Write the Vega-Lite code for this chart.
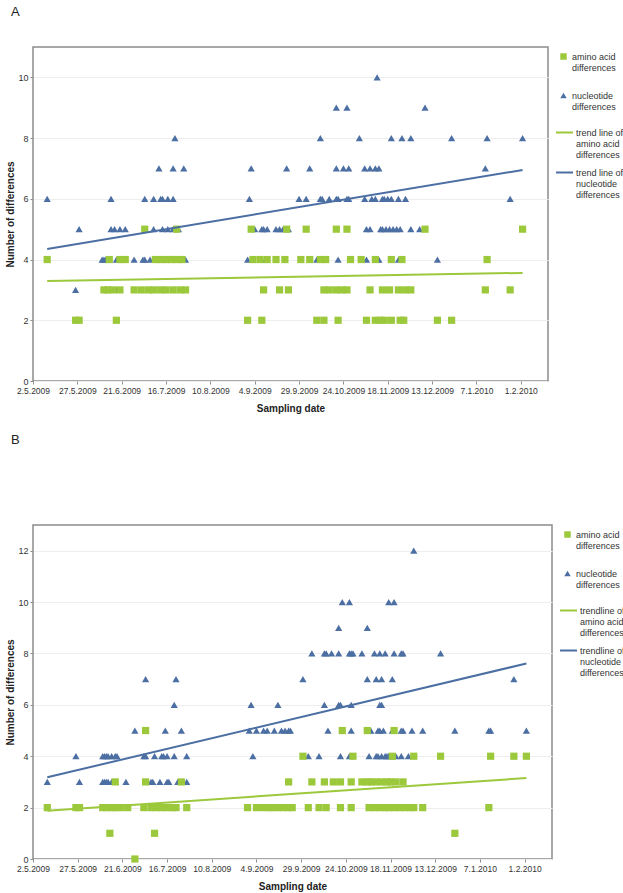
{
"$schema":"https://vega.github.io/schema/vega-lite/v6.json",
"background":"white",
"padding":{"left":5,"top":5,"right":0,"bottom":0},
"spacing":18,
"config":{
 "font":"Liberation Sans",
 "view":{"stroke":"#8c8c8c","strokeWidth":1.5},
 "axis":{"labelFont":"Liberation Sans","labelFontSize":9,"labelColor":"#333333","titleFont":"Liberation Sans","titleFontSize":10,"titleFontWeight":"bold","titleColor":"#222222","tickColor":"#8c8c8c","tickSize":3,"labelPadding":2,"domain":false,"gridColor":"#eeeeee"},
 "legend":{"labelFont":"Liberation Sans","labelFontSize":9,"labelColor":"#333333","padding":0,"offset":7,"labelLimit":200,"titleFontSize":1,"titleColor":"white"},
 "title":{"font":"Liberation Sans","fontSize":13,"fontWeight":"normal","color":"#222222"}
},
"resolve":{"scale":{"color":"independent","shape":"independent","stroke":"independent","x":"independent","y":"independent"},"legend":{"color":"independent","shape":"independent","stroke":"independent"}},
"vconcat":[
{
 "title":{"text":"A","anchor":"start","frame":"group","dx":-22,"offset":28},
 "width":515,"height":334,
 "data":{"values":[
{"d":"2009-11-12","v":10,"s":"nt"},
{"d":"2009-10-20","v":9,"s":"nt"},{"d":"2009-10-26","v":9,"s":"nt"},{"d":"2009-12-09","v":9,"s":"nt"},
{"d":"2009-07-21","v":8,"s":"nt"},{"d":"2009-10-11","v":8,"s":"nt"},{"d":"2009-11-02","v":8,"s":"nt"},{"d":"2009-11-20","v":8,"s":"nt"},{"d":"2009-11-26","v":8,"s":"nt"},{"d":"2009-12-01","v":8,"s":"nt"},{"d":"2009-12-24","v":8,"s":"nt"},{"d":"2010-01-13","v":8,"s":"nt"},{"d":"2010-02-02","v":8,"s":"nt"},
{"d":"2009-07-12","v":7,"s":"nt"},{"d":"2009-07-20","v":7,"s":"nt"},{"d":"2009-07-26","v":7,"s":"nt"},{"d":"2009-09-02","v":7,"s":"nt"},{"d":"2009-09-22","v":7,"s":"nt"},{"d":"2009-10-05","v":7,"s":"nt"},{"d":"2009-10-20","v":7,"s":"nt"},{"d":"2009-10-24","v":7,"s":"nt"},{"d":"2009-10-27","v":7,"s":"nt"},{"d":"2009-11-05","v":7,"s":"nt"},{"d":"2009-11-08","v":7,"s":"nt"},{"d":"2009-11-11","v":7,"s":"nt"},{"d":"2009-11-13","v":7,"s":"nt"},{"d":"2010-01-12","v":7,"s":"nt"},
{"d":"2009-05-10","v":6,"s":"nt"},{"d":"2009-06-15","v":6,"s":"nt"},{"d":"2009-07-04","v":6,"s":"nt"},{"d":"2009-07-09","v":6,"s":"nt"},{"d":"2009-07-13","v":6,"s":"nt"},{"d":"2009-07-14","v":6,"s":"nt"},{"d":"2009-07-17","v":6,"s":"nt"},{"d":"2009-07-20","v":6,"s":"nt"},{"d":"2009-09-01","v":6,"s":"nt"},{"d":"2009-09-29","v":6,"s":"nt"},{"d":"2009-10-03","v":6,"s":"nt"},{"d":"2009-10-11","v":6,"s":"nt"},{"d":"2009-10-12","v":6,"s":"nt"},{"d":"2009-10-16","v":6,"s":"nt"},{"d":"2009-10-20","v":6,"s":"nt"},{"d":"2009-10-21","v":6,"s":"nt"},{"d":"2009-10-26","v":6,"s":"nt"},{"d":"2009-10-27","v":6,"s":"nt"},{"d":"2009-11-05","v":6,"s":"nt"},{"d":"2009-11-09","v":6,"s":"nt"},{"d":"2009-11-11","v":6,"s":"nt"},{"d":"2009-11-15","v":6,"s":"nt"},{"d":"2009-11-16","v":6,"s":"nt"},{"d":"2009-11-18","v":6,"s":"nt"},{"d":"2009-11-20","v":6,"s":"nt"},{"d":"2009-11-24","v":6,"s":"nt"},{"d":"2009-11-28","v":6,"s":"nt"},{"d":"2010-01-26","v":6,"s":"nt"},
{"d":"2009-05-28","v":5,"s":"nt"},{"d":"2009-06-15","v":5,"s":"nt"},{"d":"2009-06-17","v":5,"s":"nt"},{"d":"2009-06-20","v":5,"s":"nt"},{"d":"2009-06-23","v":5,"s":"nt"},{"d":"2009-07-09","v":5,"s":"nt"},{"d":"2009-07-14","v":5,"s":"nt"},{"d":"2009-07-17","v":5,"s":"nt"},{"d":"2009-07-20","v":5,"s":"nt"},{"d":"2009-07-23","v":5,"s":"nt"},{"d":"2009-09-04","v":5,"s":"nt"},{"d":"2009-09-08","v":5,"s":"nt"},{"d":"2009-09-09","v":5,"s":"nt"},{"d":"2009-09-11","v":5,"s":"nt"},{"d":"2009-09-16","v":5,"s":"nt"},{"d":"2009-09-18","v":5,"s":"nt"},{"d":"2009-09-20","v":5,"s":"nt"},{"d":"2009-09-23","v":5,"s":"nt"},{"d":"2009-11-06","v":5,"s":"nt"},{"d":"2009-11-08","v":5,"s":"nt"},{"d":"2009-11-14","v":5,"s":"nt"},{"d":"2009-11-15","v":5,"s":"nt"},{"d":"2009-11-17","v":5,"s":"nt"},{"d":"2009-11-19","v":5,"s":"nt"},{"d":"2009-11-21","v":5,"s":"nt"},{"d":"2009-11-23","v":5,"s":"nt"},{"d":"2009-11-25","v":5,"s":"nt"},{"d":"2009-12-01","v":5,"s":"nt"},{"d":"2009-12-06","v":5,"s":"nt"},
{"d":"2009-06-10","v":4,"s":"nt"},{"d":"2009-06-11","v":4,"s":"nt"},{"d":"2009-06-12","v":4,"s":"nt"},{"d":"2009-06-18","v":4,"s":"nt"},{"d":"2009-06-28","v":4,"s":"nt"},{"d":"2009-07-03","v":4,"s":"nt"},{"d":"2009-07-04","v":4,"s":"nt"},{"d":"2009-07-07","v":4,"s":"nt"},{"d":"2009-07-14","v":4,"s":"nt"},{"d":"2009-07-22","v":4,"s":"nt"},{"d":"2009-07-27","v":4,"s":"nt"},{"d":"2009-08-31","v":4,"s":"nt"},{"d":"2009-09-08","v":4,"s":"nt"},{"d":"2009-10-09","v":4,"s":"nt"},{"d":"2009-10-12","v":4,"s":"nt"},{"d":"2009-10-13","v":4,"s":"nt"},{"d":"2009-10-21","v":4,"s":"nt"},{"d":"2009-11-06","v":4,"s":"nt"},{"d":"2009-11-12","v":4,"s":"nt"},{"d":"2009-11-13","v":4,"s":"nt"},{"d":"2009-11-24","v":4,"s":"nt"},{"d":"2009-12-16","v":4,"s":"nt"},
{"d":"2009-05-26","v":3,"s":"nt"},{"d":"2009-06-18","v":3,"s":"nt"},
{"d":"2009-07-04","v":5,"s":"aa"},{"d":"2009-07-22","v":5,"s":"aa"},{"d":"2009-09-02","v":5,"s":"aa"},{"d":"2009-09-22","v":5,"s":"aa"},{"d":"2009-10-03","v":5,"s":"aa"},{"d":"2009-10-20","v":5,"s":"aa"},{"d":"2009-10-26","v":5,"s":"aa"},{"d":"2009-12-09","v":5,"s":"aa"},{"d":"2010-02-02","v":5,"s":"aa"},
{"d":"2009-05-10","v":4,"s":"aa"},{"d":"2009-06-14","v":4,"s":"aa"},{"d":"2009-06-20","v":4,"s":"aa"},{"d":"2009-06-23","v":4,"s":"aa"},{"d":"2009-07-10","v":4,"s":"aa"},{"d":"2009-07-13","v":4,"s":"aa"},{"d":"2009-07-16","v":4,"s":"aa"},{"d":"2009-07-19","v":4,"s":"aa"},{"d":"2009-07-22","v":4,"s":"aa"},{"d":"2009-07-25","v":4,"s":"aa"},{"d":"2009-09-03","v":4,"s":"aa"},{"d":"2009-09-07","v":4,"s":"aa"},{"d":"2009-09-11","v":4,"s":"aa"},{"d":"2009-09-16","v":4,"s":"aa"},{"d":"2009-09-21","v":4,"s":"aa"},{"d":"2009-09-30","v":4,"s":"aa"},{"d":"2009-10-05","v":4,"s":"aa"},{"d":"2009-10-11","v":4,"s":"aa"},{"d":"2009-10-14","v":4,"s":"aa"},{"d":"2009-10-28","v":4,"s":"aa"},{"d":"2009-11-03","v":4,"s":"aa"},{"d":"2009-11-11","v":4,"s":"aa"},{"d":"2009-11-20","v":4,"s":"aa"},{"d":"2009-11-26","v":4,"s":"aa"},{"d":"2010-01-13","v":4,"s":"aa"},
{"d":"2009-06-11","v":3,"s":"aa"},{"d":"2009-06-13","v":3,"s":"aa"},{"d":"2009-06-16","v":3,"s":"aa"},{"d":"2009-06-20","v":3,"s":"aa"},{"d":"2009-06-28","v":3,"s":"aa"},{"d":"2009-07-02","v":3,"s":"aa"},{"d":"2009-07-06","v":3,"s":"aa"},{"d":"2009-07-09","v":3,"s":"aa"},{"d":"2009-07-13","v":3,"s":"aa"},{"d":"2009-07-16","v":3,"s":"aa"},{"d":"2009-07-20","v":3,"s":"aa"},{"d":"2009-07-24","v":3,"s":"aa"},{"d":"2009-07-27","v":3,"s":"aa"},{"d":"2009-09-09","v":3,"s":"aa"},{"d":"2009-09-18","v":3,"s":"aa"},{"d":"2009-09-23","v":3,"s":"aa"},{"d":"2009-10-13","v":3,"s":"aa"},{"d":"2009-10-16","v":3,"s":"aa"},{"d":"2009-10-20","v":3,"s":"aa"},{"d":"2009-10-23","v":3,"s":"aa"},{"d":"2009-10-26","v":3,"s":"aa"},{"d":"2009-11-08","v":3,"s":"aa"},{"d":"2009-11-15","v":3,"s":"aa"},{"d":"2009-11-19","v":3,"s":"aa"},{"d":"2009-11-24","v":3,"s":"aa"},{"d":"2009-11-28","v":3,"s":"aa"},{"d":"2009-12-01","v":3,"s":"aa"},{"d":"2010-01-12","v":3,"s":"aa"},{"d":"2010-01-26","v":3,"s":"aa"},
{"d":"2009-05-26","v":2,"s":"aa"},{"d":"2009-05-28","v":2,"s":"aa"},{"d":"2009-06-18","v":2,"s":"aa"},{"d":"2009-08-31","v":2,"s":"aa"},{"d":"2009-09-08","v":2,"s":"aa"},{"d":"2009-10-09","v":2,"s":"aa"},{"d":"2009-10-13","v":2,"s":"aa"},{"d":"2009-10-21","v":2,"s":"aa"},{"d":"2009-11-06","v":2,"s":"aa"},{"d":"2009-11-11","v":2,"s":"aa"},{"d":"2009-11-14","v":2,"s":"aa"},{"d":"2009-11-16","v":2,"s":"aa"},{"d":"2009-11-20","v":2,"s":"aa"},{"d":"2009-11-25","v":2,"s":"aa"},{"d":"2009-11-27","v":2,"s":"aa"},{"d":"2009-12-16","v":2,"s":"aa"},{"d":"2009-12-24","v":2,"s":"aa"},
{"d":"2009-05-10","v":3.29,"s":"taa"},{"d":"2010-02-02","v":3.56,"s":"taa"},
{"d":"2009-05-10","v":4.35,"s":"tnt"},{"d":"2010-02-02","v":6.95,"s":"tnt"}
 ]},
 "layer":[
  {"transform":[{"filter":"datum.s=='aa'||datum.s=='nt'"}],
   "mark":{"type":"point","filled":true,"opacity":1,"size":52},
   "encoding":{
    "x":{"field":"d","type":"temporal","scale":{"type":"utc","domain":[{"year":2009,"month":5,"date":2,"utc":true},{"year":2010,"month":2,"date":16,"hours":8,"utc":true}]},
      "axis":{"title":"Sampling date","format":"%-d.%-m.%Y","labelAngle":0,"labelFlush":false,"labelOverlap":false,"labelFontSize":8.5,"grid":false,"titlePadding":9,
        "values":[{"year":2009,"month":5,"date":2,"utc":true},{"year":2009,"month":5,"date":27,"utc":true},{"year":2009,"month":6,"date":21,"utc":true},{"year":2009,"month":7,"date":16,"utc":true},{"year":2009,"month":8,"date":10,"utc":true},{"year":2009,"month":9,"date":4,"utc":true},{"year":2009,"month":9,"date":29,"utc":true},{"year":2009,"month":10,"date":24,"utc":true},{"year":2009,"month":11,"date":18,"utc":true},{"year":2009,"month":12,"date":13,"utc":true},{"year":2010,"month":1,"date":7,"utc":true},{"year":2010,"month":2,"date":1,"utc":true}]}},
    "y":{"field":"v","type":"quantitative","scale":{"domain":[0,11],"nice":false},"axis":{"title":"Number of differences","values":[0,2,4,6,8,10],"titlePadding":2}},
    "color":{"field":"s","type":"nominal","scale":{"domain":["aa","nt"],"range":["#9CC83C","#4C6FA3"]},"legend":{"title":" ","titlePadding":4,"symbolSize":42,"symbolOffset":4,"labelOffset":4,"rowPadding":18,"labelExpr":"datum.value=='aa'?['amino acid','differences']:['nucleotide','differences']"}},
    "shape":{"field":"s","type":"nominal","scale":{"domain":["aa","nt"],"range":["square","triangle-up"]},"legend":{"title":" ","titlePadding":4,"symbolSize":42,"symbolOffset":4,"labelOffset":4,"rowPadding":18,"labelExpr":"datum.value=='aa'?['amino acid','differences']:['nucleotide','differences']"}}
   }},
  {"transform":[{"filter":"datum.s=='taa'||datum.s=='tnt'"}],
   "mark":{"type":"line","strokeWidth":2},
   "encoding":{
    "x":{"field":"d","type":"temporal"},
    "y":{"field":"v","type":"quantitative"},
    "stroke":{"field":"s","type":"nominal","scale":{"domain":["taa","tnt"],"range":["#9CC83C","#4C6FA3"]},"legend":{"title":" ","titlePadding":2,"symbolType":"stroke","symbolSize":289,"symbolStrokeWidth":2,"labelOffset":2,"rowPadding":3,"labelExpr":"datum.value=='taa'?['trend line of','amino acid','differences']:['trend line of','nucleotide','differences']"}}
   }}
 ]
},
{
 "title":{"text":"B","anchor":"start","frame":"group","dx":-22,"offset":78},
 "width":519,"height":334,
 "data":{"values":[
{"d":"2009-12-01","v":12,"s":"nt"},
{"d":"2009-10-22","v":10,"s":"nt"},{"d":"2009-10-26","v":10,"s":"nt"},{"d":"2009-11-17","v":10,"s":"nt"},{"d":"2009-11-20","v":10,"s":"nt"},
{"d":"2009-10-20","v":9,"s":"nt"},{"d":"2009-11-05","v":9,"s":"nt"},
{"d":"2009-10-05","v":8,"s":"nt"},{"d":"2009-10-12","v":8,"s":"nt"},{"d":"2009-10-13","v":8,"s":"nt"},{"d":"2009-10-16","v":8,"s":"nt"},{"d":"2009-10-20","v":8,"s":"nt"},{"d":"2009-10-26","v":8,"s":"nt"},{"d":"2009-10-27","v":8,"s":"nt"},{"d":"2009-10-28","v":8,"s":"nt"},{"d":"2009-11-02","v":8,"s":"nt"},{"d":"2009-11-09","v":8,"s":"nt"},{"d":"2009-11-12","v":8,"s":"nt"},{"d":"2009-11-15","v":8,"s":"nt"},{"d":"2009-11-20","v":8,"s":"nt"},{"d":"2009-11-24","v":8,"s":"nt"},{"d":"2009-11-25","v":8,"s":"nt"},{"d":"2009-12-16","v":8,"s":"nt"},
{"d":"2009-07-04","v":7,"s":"nt"},{"d":"2009-07-21","v":7,"s":"nt"},{"d":"2009-09-30","v":7,"s":"nt"},{"d":"2009-11-05","v":7,"s":"nt"},{"d":"2009-11-10","v":7,"s":"nt"},{"d":"2009-11-13","v":7,"s":"nt"},{"d":"2009-11-19","v":7,"s":"nt"},{"d":"2010-01-26","v":7,"s":"nt"},
{"d":"2009-07-20","v":6,"s":"nt"},{"d":"2009-09-01","v":6,"s":"nt"},{"d":"2009-09-16","v":6,"s":"nt"},{"d":"2009-10-12","v":6,"s":"nt"},{"d":"2009-10-20","v":6,"s":"nt"},{"d":"2009-10-21","v":6,"s":"nt"},{"d":"2009-10-27","v":6,"s":"nt"},{"d":"2009-11-12","v":6,"s":"nt"},{"d":"2009-11-13","v":6,"s":"nt"},
{"d":"2009-06-28","v":5,"s":"nt"},{"d":"2009-07-15","v":5,"s":"nt"},{"d":"2009-07-24","v":5,"s":"nt"},{"d":"2009-08-31","v":5,"s":"nt"},{"d":"2009-09-04","v":5,"s":"nt"},{"d":"2009-09-08","v":5,"s":"nt"},{"d":"2009-09-10","v":5,"s":"nt"},{"d":"2009-09-14","v":5,"s":"nt"},{"d":"2009-09-18","v":5,"s":"nt"},{"d":"2009-09-20","v":5,"s":"nt"},{"d":"2009-09-22","v":5,"s":"nt"},{"d":"2009-09-23","v":5,"s":"nt"},{"d":"2009-10-14","v":5,"s":"nt"},{"d":"2009-10-27","v":5,"s":"nt"},{"d":"2009-11-06","v":5,"s":"nt"},{"d":"2009-11-07","v":5,"s":"nt"},{"d":"2009-11-11","v":5,"s":"nt"},{"d":"2009-11-12","v":5,"s":"nt"},{"d":"2009-11-14","v":5,"s":"nt"},{"d":"2009-11-19","v":5,"s":"nt"},{"d":"2009-11-24","v":5,"s":"nt"},{"d":"2009-11-25","v":5,"s":"nt"},{"d":"2009-11-30","v":5,"s":"nt"},{"d":"2009-12-06","v":5,"s":"nt"},{"d":"2009-12-24","v":5,"s":"nt"},{"d":"2010-01-12","v":5,"s":"nt"},{"d":"2010-01-13","v":5,"s":"nt"},{"d":"2010-02-02","v":5,"s":"nt"},
{"d":"2009-05-26","v":4,"s":"nt"},{"d":"2009-06-10","v":4,"s":"nt"},{"d":"2009-06-11","v":4,"s":"nt"},{"d":"2009-06-12","v":4,"s":"nt"},{"d":"2009-06-13","v":4,"s":"nt"},{"d":"2009-06-15","v":4,"s":"nt"},{"d":"2009-06-17","v":4,"s":"nt"},{"d":"2009-06-18","v":4,"s":"nt"},{"d":"2009-07-03","v":4,"s":"nt"},{"d":"2009-07-04","v":4,"s":"nt"},{"d":"2009-07-09","v":4,"s":"nt"},{"d":"2009-07-13","v":4,"s":"nt"},{"d":"2009-07-14","v":4,"s":"nt"},{"d":"2009-07-16","v":4,"s":"nt"},{"d":"2009-07-20","v":4,"s":"nt"},{"d":"2009-07-27","v":4,"s":"nt"},{"d":"2009-09-02","v":4,"s":"nt"},{"d":"2009-10-03","v":4,"s":"nt"},{"d":"2009-10-09","v":4,"s":"nt"},{"d":"2009-10-21","v":4,"s":"nt"},{"d":"2009-10-26","v":4,"s":"nt"},{"d":"2009-11-06","v":4,"s":"nt"},{"d":"2009-11-10","v":4,"s":"nt"},{"d":"2009-11-11","v":4,"s":"nt"},{"d":"2009-11-13","v":4,"s":"nt"},{"d":"2009-11-15","v":4,"s":"nt"},{"d":"2009-11-16","v":4,"s":"nt"},{"d":"2009-11-17","v":4,"s":"nt"},{"d":"2009-11-19","v":4,"s":"nt"},{"d":"2009-11-21","v":4,"s":"nt"},{"d":"2009-11-24","v":4,"s":"nt"},{"d":"2009-11-28","v":4,"s":"nt"},
{"d":"2009-05-10","v":3,"s":"nt"},{"d":"2009-05-28","v":3,"s":"nt"},{"d":"2009-06-10","v":3,"s":"nt"},{"d":"2009-06-11","v":3,"s":"nt"},{"d":"2009-06-12","v":3,"s":"nt"},{"d":"2009-06-13","v":3,"s":"nt"},{"d":"2009-06-15","v":3,"s":"nt"},{"d":"2009-06-17","v":3,"s":"nt"},{"d":"2009-06-23","v":3,"s":"nt"},{"d":"2009-07-07","v":3,"s":"nt"},{"d":"2009-07-08","v":3,"s":"nt"},{"d":"2009-07-12","v":3,"s":"nt"},{"d":"2009-07-16","v":3,"s":"nt"},{"d":"2009-07-17","v":3,"s":"nt"},{"d":"2009-07-22","v":3,"s":"nt"},{"d":"2009-07-27","v":3,"s":"nt"},
{"d":"2009-07-04","v":5,"s":"aa"},{"d":"2009-10-22","v":5,"s":"aa"},{"d":"2009-11-05","v":5,"s":"aa"},{"d":"2009-11-20","v":5,"s":"aa"},
{"d":"2009-09-30","v":4,"s":"aa"},{"d":"2009-10-28","v":4,"s":"aa"},{"d":"2009-11-19","v":4,"s":"aa"},{"d":"2009-12-01","v":4,"s":"aa"},{"d":"2009-12-16","v":4,"s":"aa"},{"d":"2010-01-13","v":4,"s":"aa"},{"d":"2010-01-26","v":4,"s":"aa"},{"d":"2010-02-02","v":4,"s":"aa"},
{"d":"2009-06-17","v":3,"s":"aa"},{"d":"2009-07-04","v":3,"s":"aa"},{"d":"2009-07-24","v":3,"s":"aa"},{"d":"2009-09-22","v":3,"s":"aa"},{"d":"2009-10-05","v":3,"s":"aa"},{"d":"2009-10-12","v":3,"s":"aa"},{"d":"2009-10-17","v":3,"s":"aa"},{"d":"2009-10-21","v":3,"s":"aa"},{"d":"2009-10-27","v":3,"s":"aa"},{"d":"2009-11-02","v":3,"s":"aa"},{"d":"2009-11-05","v":3,"s":"aa"},{"d":"2009-11-07","v":3,"s":"aa"},{"d":"2009-11-10","v":3,"s":"aa"},{"d":"2009-11-13","v":3,"s":"aa"},{"d":"2009-11-16","v":3,"s":"aa"},{"d":"2009-11-18","v":3,"s":"aa"},{"d":"2009-11-21","v":3,"s":"aa"},{"d":"2009-11-25","v":3,"s":"aa"},
{"d":"2009-05-10","v":2,"s":"aa"},{"d":"2009-05-26","v":2,"s":"aa"},{"d":"2009-05-28","v":2,"s":"aa"},{"d":"2009-06-10","v":2,"s":"aa"},{"d":"2009-06-12","v":2,"s":"aa"},{"d":"2009-06-15","v":2,"s":"aa"},{"d":"2009-06-17","v":2,"s":"aa"},{"d":"2009-06-20","v":2,"s":"aa"},{"d":"2009-06-24","v":2,"s":"aa"},{"d":"2009-07-03","v":2,"s":"aa"},{"d":"2009-07-07","v":2,"s":"aa"},{"d":"2009-07-10","v":2,"s":"aa"},{"d":"2009-07-13","v":2,"s":"aa"},{"d":"2009-07-16","v":2,"s":"aa"},{"d":"2009-07-19","v":2,"s":"aa"},{"d":"2009-07-21","v":2,"s":"aa"},{"d":"2009-07-27","v":2,"s":"aa"},{"d":"2009-08-30","v":2,"s":"aa"},{"d":"2009-09-04","v":2,"s":"aa"},{"d":"2009-09-08","v":2,"s":"aa"},{"d":"2009-09-11","v":2,"s":"aa"},{"d":"2009-09-13","v":2,"s":"aa"},{"d":"2009-09-16","v":2,"s":"aa"},{"d":"2009-09-19","v":2,"s":"aa"},{"d":"2009-09-22","v":2,"s":"aa"},{"d":"2009-09-24","v":2,"s":"aa"},{"d":"2009-10-03","v":2,"s":"aa"},{"d":"2009-10-09","v":2,"s":"aa"},{"d":"2009-10-13","v":2,"s":"aa"},{"d":"2009-10-21","v":2,"s":"aa"},{"d":"2009-10-27","v":2,"s":"aa"},{"d":"2009-11-06","v":2,"s":"aa"},{"d":"2009-11-09","v":2,"s":"aa"},{"d":"2009-11-12","v":2,"s":"aa"},{"d":"2009-11-15","v":2,"s":"aa"},{"d":"2009-11-17","v":2,"s":"aa"},{"d":"2009-11-20","v":2,"s":"aa"},{"d":"2009-11-23","v":2,"s":"aa"},{"d":"2009-11-26","v":2,"s":"aa"},{"d":"2009-11-29","v":2,"s":"aa"},{"d":"2009-12-01","v":2,"s":"aa"},{"d":"2009-12-06","v":2,"s":"aa"},{"d":"2010-01-12","v":2,"s":"aa"},
{"d":"2009-06-14","v":1,"s":"aa"},{"d":"2009-07-09","v":1,"s":"aa"},{"d":"2009-12-24","v":1,"s":"aa"},
{"d":"2009-06-28","v":0,"s":"aa"},
{"d":"2009-05-10","v":1.88,"s":"taa"},{"d":"2010-02-02","v":3.15,"s":"taa"},
{"d":"2009-05-10","v":3.18,"s":"tnt"},{"d":"2010-02-02","v":7.61,"s":"tnt"}
 ]},
 "layer":[
  {"transform":[{"filter":"datum.s=='aa'||datum.s=='nt'"}],
   "mark":{"type":"point","filled":true,"opacity":1,"size":52},
   "encoding":{
    "x":{"field":"d","type":"temporal","scale":{"type":"utc","domain":[{"year":2009,"month":5,"date":2,"utc":true},{"year":2010,"month":2,"date":16,"hours":8,"utc":true}]},
      "axis":{"title":"Sampling date","format":"%-d.%-m.%Y","labelAngle":0,"labelFlush":false,"labelOverlap":false,"labelFontSize":8.5,"grid":false,"titlePadding":9,
        "values":[{"year":2009,"month":5,"date":2,"utc":true},{"year":2009,"month":5,"date":27,"utc":true},{"year":2009,"month":6,"date":21,"utc":true},{"year":2009,"month":7,"date":16,"utc":true},{"year":2009,"month":8,"date":10,"utc":true},{"year":2009,"month":9,"date":4,"utc":true},{"year":2009,"month":9,"date":29,"utc":true},{"year":2009,"month":10,"date":24,"utc":true},{"year":2009,"month":11,"date":18,"utc":true},{"year":2009,"month":12,"date":13,"utc":true},{"year":2010,"month":1,"date":7,"utc":true},{"year":2010,"month":2,"date":1,"utc":true}]}},
    "y":{"field":"v","type":"quantitative","scale":{"domain":[0,13],"nice":false},"axis":{"title":"Number of differences","values":[0,2,4,6,8,10,12],"titlePadding":2}},
    "color":{"field":"s","type":"nominal","scale":{"domain":["aa","nt"],"range":["#9CC83C","#4C6FA3"]},"legend":{"title":" ","titlePadding":4,"symbolSize":42,"symbolOffset":4,"labelOffset":4,"rowPadding":18,"labelExpr":"datum.value=='aa'?['amino acid','differences']:['nucleotide','differences']"}},
    "shape":{"field":"s","type":"nominal","scale":{"domain":["aa","nt"],"range":["square","triangle-up"]},"legend":{"title":" ","titlePadding":4,"symbolSize":42,"symbolOffset":4,"labelOffset":4,"rowPadding":18,"labelExpr":"datum.value=='aa'?['amino acid','differences']:['nucleotide','differences']"}}
   }},
  {"transform":[{"filter":"datum.s=='taa'||datum.s=='tnt'"}],
   "mark":{"type":"line","strokeWidth":2},
   "encoding":{
    "x":{"field":"d","type":"temporal"},
    "y":{"field":"v","type":"quantitative"},
    "stroke":{"field":"s","type":"nominal","scale":{"domain":["taa","tnt"],"range":["#9CC83C","#4C6FA3"]},"legend":{"title":" ","titlePadding":2,"symbolType":"stroke","symbolSize":289,"symbolStrokeWidth":2,"labelOffset":2,"rowPadding":3,"labelExpr":"datum.value=='taa'?['trendline of','amino acid','differences']:['trendline of','nucleotide','differences']"}}
   }}
 ]
}
]
}
